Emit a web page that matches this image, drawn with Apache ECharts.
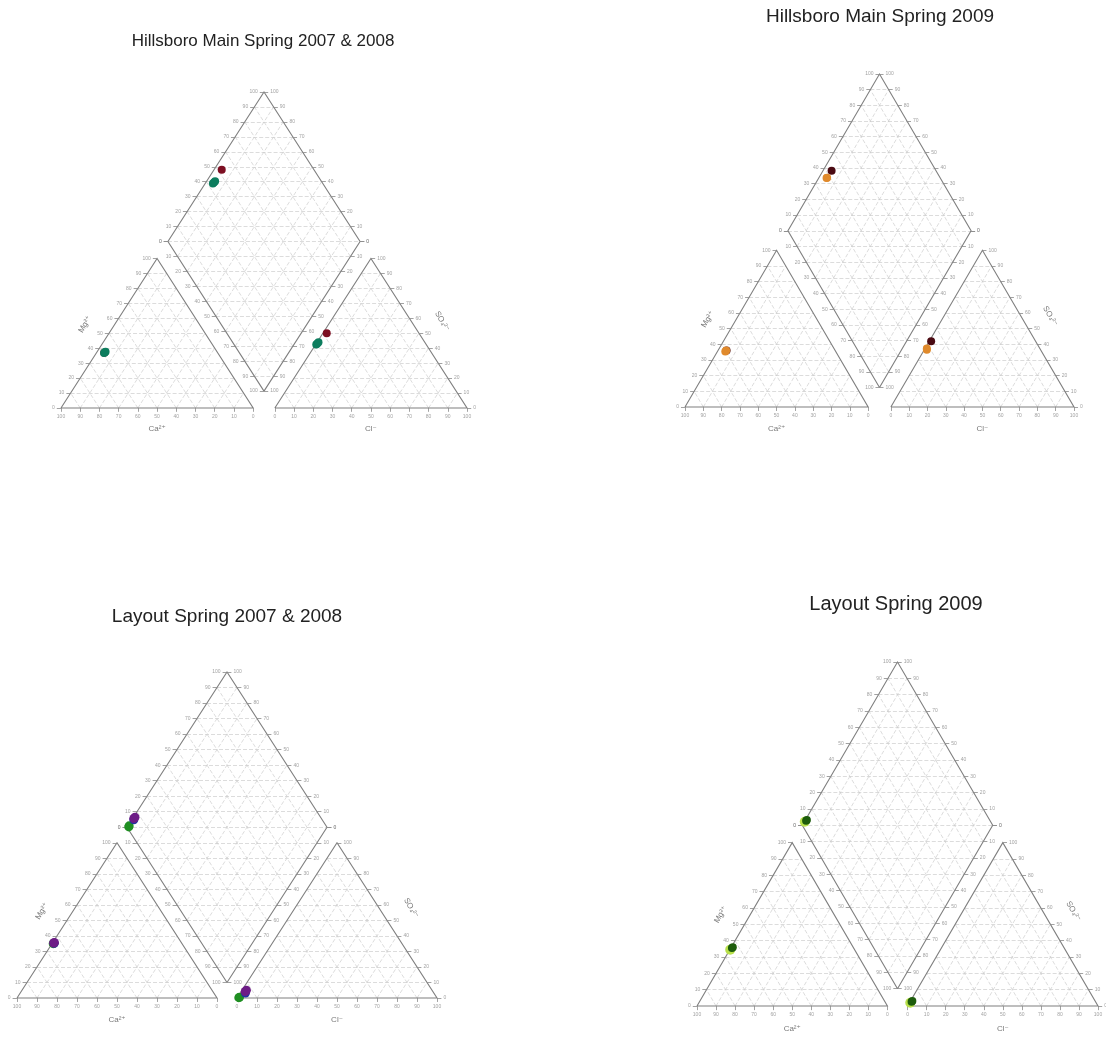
<!DOCTYPE html>
<html>
<head>
<meta charset="utf-8">
<title>Piper diagrams</title>
<script src="https://cdn.jsdelivr.net/npm/echarts@6/dist/echarts.min.js"></script>
<style>
    html, body { margin: 0; padding: 0; background: #fff; }
    #piper { width: 1106px; height: 1037px; }
</style>
</head>
<body>
<div id="piper"></div>
<script>
    // titles of the four diagrams
    var panelTitles = ['Hillsboro Main Spring 2007 & 2008', 'Hillsboro Main Spring 2009',
        'Layout Spring 2007 & 2008', 'Layout Spring 2009'];

    // percent ticks on every edge
    var tickValues = [0, 10, 20, 30, 40, 50, 60, 70, 80, 90, 100];

    // axis names
    var mgName = 'Mg²⁺';
    var caName = 'Ca²⁺';
    var so4Name = 'SO₄²⁻';
    var clName = 'Cl⁻';

    // samples, one row each: [Mg %, Na+K %, SO4 %, Cl %]  (Ca and HCO3 are the rest)
    var hillsboro0708Red = [[37, 4, 50, 2]];
    var hillsboro0708Teal = [[36.8, 4, 42.5, 0.3], [37.2, 4.2, 43.2, 0.5], [37.6, 4.4, 44, 0.7]];
    var hillsboro09Dark = [[36, 4.7, 42, 1]];
    var hillsboro09Orange = [[36, 4.5, 37.3, 1], [35.4, 4.3, 36.5, 1.4]];
    var layout0708Green = [[35.3, 0.8, 0.2, 0.8], [35, 0.6, 0.5, 1]];
    var layout0708Blue = [[35.2, 1, 3.2, 2.6]];
    var layout0708Purple = [[35.4, 0.6, 4.2, 2], [35.8, 0.8, 5, 2.2]];
    var layout09Light = [[34.5, 0.2, 2, 0.4]];
    var layout09Green = [[35.5, 0.6, 2.6, 0.8], [36, 0.8, 3, 1]];

    // where each diagram sits on the page
    var panelBoxes = [
        {left: 61, top: 92, width: 406, height: 316, gap: 0.113},
        {left: 685, top: 74, width: 389, height: 333, gap: 0.124},
        {left: 17, top: 672, width: 420, height: 326, gap: 0.10},
        {left: 697, top: 662, width: 401, height: 344, gap: 0.106}
    ];
    var titleSpots = [
        {x: 263, y: 41, size: 17},
        {x: 880, y: 17, size: 19},
        {x: 227, y: 617, size: 19},
        {x: 896, y: 604, size: 20}
    ];
    var panelGroups = [
        [{data: hillsboro0708Red, color: '#7d0f22', size: 8}, {data: hillsboro0708Teal, color: '#0d7d5e', size: 8}],
        [{data: hillsboro09Dark, color: '#4a0a12', size: 8}, {data: hillsboro09Orange, color: '#e08a2c', size: 8}],
        [{data: layout0708Green, color: '#1f8f22', size: 9}, {data: layout0708Blue, color: '#2233a0', size: 9},
            {data: layout0708Purple, color: '#6d1c86', size: 9}],
        [{data: layout09Light, color: '#b8e04a', size: 10}, {data: layout09Green, color: '#1d5c0c', size: 8}]
    ];

    var H = Math.sqrt(3) / 2;
    var FONT = 'Liberation Sans, DejaVu Sans, Arial, sans-serif';

    function catXY(mg, na) {
        return [na / 100 + 0.5 * mg / 100, H * mg / 100];
    }
    function anXY(g, so4, cl) {
        return [1 + g + cl / 100 + 0.5 * so4 / 100, H * so4 / 100];
    }
    function diaXY(g, na, so4, cl) {
        var cs = (so4 + cl) / 100, n = na / 100;
        return [0.5 * (1 + g + cs + n), H * (1 + g + cs - n)];
    }
    function lerp(a, b, f) {
        return [a[0] + (b[0] - a[0]) * f, a[1] + (b[1] - a[1]) * f];
    }

    function buildPanel(i, box, groups) {
        var g = box.gap;
        var ref = {xAxisIndex: i, yAxisIndex: i};
        var inner = tickValues.slice(1, tickValues.length - 1);
        var segs = [];

        // lattice of the two triangles
        [0, 1 + g].forEach(function (x0) {
            inner.forEach(function (v) {
                var f = v / 100;
                segs.push([[x0 + 0.5 * f, H * f], [x0 + 1 - 0.5 * f, H * f]]);
                segs.push([[x0 + f, 0], [x0 + f + 0.5 * (1 - f), H * (1 - f)]]);
                segs.push([[x0 + f, 0], [x0 + 0.5 * f, H * f]]);
            });
        });
        // lattice of the diamond
        var B = [1 + g / 2, H * g];
        var L = [0.5 + g / 2, H * (1 + g)];
        var R = [1.5 + g / 2, H * (1 + g)];
        var T = [1 + g / 2, H * (2 + g)];
        inner.forEach(function (v) {
            var f = v / 100;
            var p = lerp(B, L, f), q = lerp(B, R, f);
            segs.push([p, [p[0] + 0.5, p[1] + H]]);
            segs.push([q, [q[0] - 0.5, q[1] + H]]);
        });
        // horizontal rows of the diamond, lower half then upper half
        inner.concat([100], inner.map(function (v) { return v + 100; })).forEach(function (v) {
            var j = v / 10;
            var hw = 0.5 * (j <= 10 ? j : 20 - j) / 10;
            segs.push([[B[0] - hw, B[1] + H * j / 10], [B[0] + hw, B[1] + H * j / 10]]);
        });

        var outlines = [
            [[0, 0], [1, 0], [0.5, H], [0, 0]],
            [[1 + g, 0], [2 + g, 0], [1.5 + g, H], [1 + g, 0]],
            [B, R, T, L, B]
        ];

        // ticks and their labels
        var tk = 0.022;
        var tickSegs = [], leftLabels = [], rightLabels = [], bottomLabels = [];
        tickValues.forEach(function (v) {
            var f = v / 100;
            var lefts = [[lerp([0, 0], [0.5, H], f), v], [lerp(L, T, f), v], [lerp(L, B, f), v]];
            var rights = [[lerp([2 + g, 0], [1.5 + g, H], f), v], [lerp(R, T, f), v], [lerp(R, B, f), v]];
            var bottoms = [[[f, 0], 100 - v], [[1 + g + f, 0], v]];
            lefts.forEach(function (e) {
                var p = e[0];
                tickSegs.push([p, [p[0] - tk, p[1]]]);
                leftLabels.push([p[0] - tk, p[1], e[1]]);
            });
            rights.forEach(function (e) {
                var p = e[0];
                tickSegs.push([p, [p[0] + tk, p[1]]]);
                rightLabels.push([p[0] + tk, p[1], e[1]]);
            });
            bottoms.forEach(function (e) {
                var p = e[0];
                tickSegs.push([p, [p[0], p[1] - tk]]);
                bottomLabels.push([p[0], p[1] - tk, e[1]]);
            });
        });

        function tickLabelSeries(data, pos) {
            return Object.assign({
                type: 'scatter', data: data, symbolSize: 0, silent: true, clip: false, z: 3,
                label: {
                    show: true, position: pos, distance: 2, fontSize: 5, color: '#8a8a8a', fontFamily: FONT,
                    formatter: function (p) { return p.value[2]; }
                }
            }, ref);
        }

        var series = [
            Object.assign({
                type: 'lines', coordinateSystem: 'cartesian2d', silent: true, clip: false, z: 1,
                data: segs.map(function (s) { return {coords: s}; }),
                lineStyle: {color: '#cdcdcd', width: 0.7, type: [4, 2], opacity: 1}
            }, ref),
            Object.assign({
                type: 'lines', coordinateSystem: 'cartesian2d', polyline: true, silent: true, clip: false, z: 2,
                data: outlines.map(function (s) { return {coords: s}; }),
                lineStyle: {color: '#7f7f7f', width: 1.1, opacity: 1}
            }, ref),
            Object.assign({
                type: 'lines', coordinateSystem: 'cartesian2d', silent: true, clip: false, z: 2,
                data: tickSegs.map(function (s) { return {coords: s}; }),
                lineStyle: {color: '#8a8a8a', width: 0.8, opacity: 1}
            }, ref),
            tickLabelSeries(leftLabels, 'left'),
            tickLabelSeries(rightLabels, 'right'),
            tickLabelSeries(bottomLabels, 'bottom'),
            Object.assign({
                type: 'scatter', symbolSize: 0, silent: true, clip: false, z: 3,
                data: [
                    {value: [0.5 * 0.56 - 0.155, H * 0.56], label: {formatter: mgName, rotate: 60}},
                    {value: [0.5, -0.12], label: {formatter: caName}},
                    {value: [2 + g - 0.5 * 0.58 + 0.16, H * 0.58], label: {formatter: so4Name, rotate: -60}},
                    {value: [1.5 + g, -0.12], label: {formatter: clName}}
                ],
                label: {show: true, position: 'inside', fontSize: 8, color: '#555', fontFamily: FONT}
            }, ref)
        ];

        // samples: the cation point, the anion point and the projected diamond point
        groups.forEach(function (grp) {
            var pts = [];
            grp.data.forEach(function (s) {
                pts.push(catXY(s[0], s[1]));
                pts.push(anXY(g, s[2], s[3]));
                pts.push(diaXY(g, s[1], s[2], s[3]));
            });
            series.push(Object.assign({
                type: 'scatter', data: pts, symbol: 'circle', symbolSize: grp.size, clip: false, z: 5,
                itemStyle: {color: grp.color, opacity: 1}
            }, ref));
        });
        return series;
    }

    var chart = echarts.init(document.getElementById('piper'), null, {renderer: 'canvas'});
    var series = [];
    panelBoxes.forEach(function (box, i) {
        series = series.concat(buildPanel(i, box, panelGroups[i]));
    });

    var option = {
        backgroundColor: '#fff',
        animation: false,
        title: panelTitles.map(function (t, i) {
            return {
                text: t, left: titleSpots[i].x, top: titleSpots[i].y, padding: 0,
                textAlign: 'center', textVerticalAlign: 'middle',
                textStyle: {fontSize: titleSpots[i].size, fontWeight: 'normal', color: '#222', fontFamily: FONT}
            };
        }),
        grid: panelBoxes.map(function (b) {
            return {left: b.left, top: b.top, width: b.width, height: b.height, containLabel: false};
        }),
        xAxis: panelBoxes.map(function (b, i) {
            return {type: 'value', gridIndex: i, min: 0, max: 2 + b.gap, show: false};
        }),
        yAxis: panelBoxes.map(function (b, i) {
            return {type: 'value', gridIndex: i, min: 0, max: H * (2 + b.gap), show: false};
        }),
        series: series
    };
    chart.setOption(option);
</script>
</body>
</html>
